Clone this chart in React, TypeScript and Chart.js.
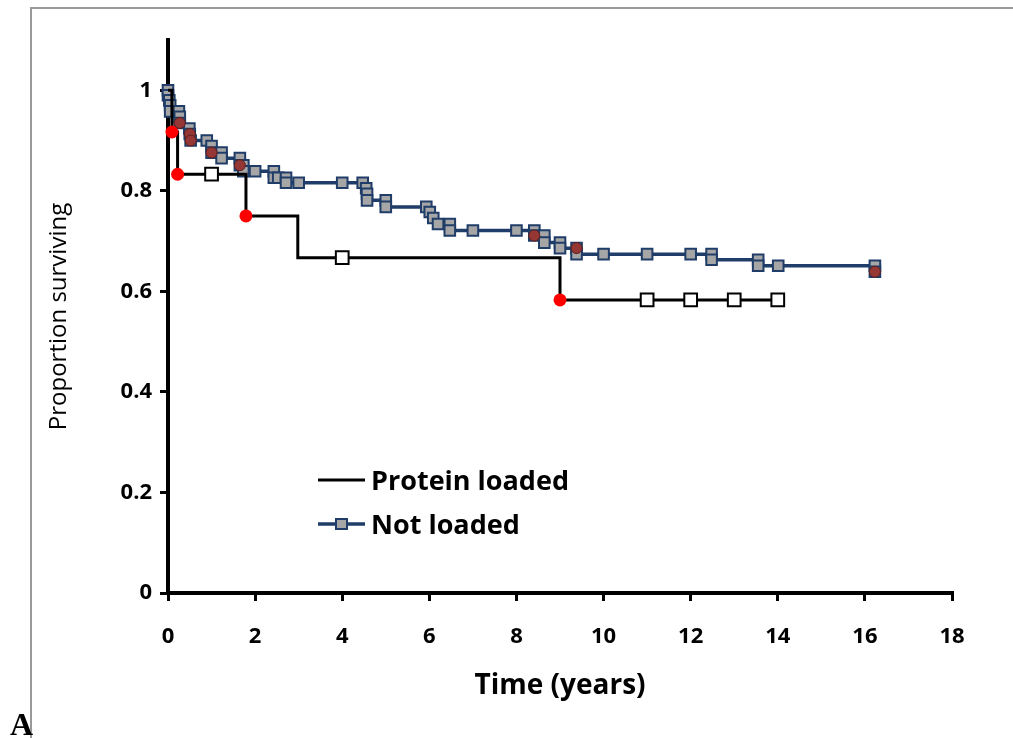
import React, { useEffect, useRef } from 'react';
import { Chart, registerables } from 'chart.js';

Chart.register(...registerables);

// ---------- data ----------
const xTickStep = 2;
const xMin = 0;
const xMax = 18;
const yTickValues = [0, 0.2, 0.4, 0.6, 0.8, 1];
const yMin = 0;
const yMax = 1.1;

const seriesNames = ['Protein loaded', 'Not loaded'];

// Protein loaded (Kaplan-Meier, stepped)
const proteinTimes = [0, 0.09, 0.22, 1.0, 1.79, 2.98, 4.0, 9.0, 11, 12, 13, 14];
const proteinSurv = [1, 0.917, 0.833, 0.833, 0.75, 0.667, 0.667, 0.583, 0.583, 0.583, 0.583, 0.583];
const proteinMark = ['', 'event', 'event', 'censor', 'event', '', 'censor', 'event', 'censor', 'censor', 'censor', 'censor'];

// Not loaded (points as plotted)
const notLoadedTimes = [0, 0.0, 0.03, 0.05, 0.05, 0.25, 0.27, 0.27, 0.49, 0.5, 0.52, 0.89, 1.0, 1.0, 1.23, 1.23, 1.65, 1.65, 1.73, 1.73, 2.0, 2.43, 2.43, 2.53, 2.71, 2.71, 3.0, 4.0, 4.47, 4.55, 4.57, 4.57, 5.0, 5.0, 5.93, 6.01, 6.09, 6.2, 6.47, 6.47, 7.0, 8.0, 8.41, 8.41, 8.64, 8.64, 9.0, 9.0, 9.38, 9.38, 10.0, 11.0, 12.0, 12.48, 12.48, 13.55, 13.55, 14.01, 16.23, 16.23];
const notLoadedSurv = [1.0, 0.99, 0.98, 0.97, 0.958, 0.958, 0.947, 0.935, 0.924, 0.913, 0.9, 0.9, 0.889, 0.876, 0.876, 0.865, 0.865, 0.851, 0.851, 0.839, 0.839, 0.839, 0.826, 0.826, 0.826, 0.816, 0.816, 0.816, 0.816, 0.805, 0.794, 0.781, 0.781, 0.768, 0.768, 0.758, 0.746, 0.734, 0.734, 0.721, 0.721, 0.721, 0.721, 0.711, 0.711, 0.697, 0.697, 0.686, 0.686, 0.674, 0.674, 0.674, 0.674, 0.674, 0.663, 0.663, 0.651, 0.651, 0.651, 0.639];
const notLoadedEventTimes = [0.27, 0.5, 0.52, 1.0, 1.65, 8.41, 9.38, 16.23];
const notLoadedEventSurv = [0.935, 0.913, 0.9, 0.876, 0.851, 0.711, 0.686, 0.639];

// ---------- styles ----------
const NAVY = '#1f3d68';
const GRAY = '#a6a6a6';
const BROWN = '#953735';
const FONT_BOLD = '"Open Sans", "DejaVu Sans", sans-serif';

const legendPlugin = {
  id: 'kmLegend',
  afterDraw(chart: any) {
    const ctx = chart.ctx;
    ctx.save();
    const x0 = 318;
    const x1 = 365;
    const rows = [480, 524];
    ctx.strokeStyle = '#000';
    ctx.lineWidth = 3;
    ctx.beginPath();
    ctx.moveTo(x0, rows[0]);
    ctx.lineTo(x1, rows[0]);
    ctx.stroke();
    ctx.strokeStyle = NAVY;
    ctx.lineWidth = 3.5;
    ctx.beginPath();
    ctx.moveTo(x0, rows[1]);
    ctx.lineTo(x1, rows[1]);
    ctx.stroke();
    ctx.fillStyle = GRAY;
    ctx.lineWidth = 2;
    ctx.beginPath();
    ctx.rect((x0 + x1) / 2 - 5.5, rows[1] - 5, 11, 10);
    ctx.fill();
    ctx.stroke();
    ctx.fillStyle = '#000';
    ctx.font = `bold 27px ${FONT_BOLD}`;
    ctx.textAlign = 'left';
    ctx.textBaseline = 'alphabetic';
    ctx.fillText(seriesNames[0], 371, rows[0] + 10);
    ctx.fillText(seriesNames[1], 371, rows[1] + 10);
    ctx.restore();
  },
};

export default function App() {
  const canvasRef = useRef<HTMLCanvasElement | null>(null);

  useEffect(() => {
    if (!canvasRef.current) return;
    const proteinLine = proteinTimes.map((t, i) => ({ x: t, y: proteinSurv[i] }));
    const proteinEvents = proteinTimes
      .map((t, i) => ({ x: t, y: proteinSurv[i], m: proteinMark[i] }))
      .filter((p) => p.m === 'event')
      .map(({ x, y }) => ({ x, y }));
    const proteinCensor = proteinTimes
      .map((t, i) => ({ x: t, y: proteinSurv[i], m: proteinMark[i] }))
      .filter((p) => p.m === 'censor')
      .map(({ x, y }) => ({ x, y }));
    const notLoadedLine = notLoadedTimes.map((t, i) => ({ x: t, y: notLoadedSurv[i] }));
    const notLoadedEvents = notLoadedEventTimes.map((t, i) => ({ x: t, y: notLoadedEventSurv[i] }));

    const chart = new Chart(canvasRef.current, {
      type: 'scatter',
      data: {
        datasets: [
          {
            label: 'Not loaded events',
            data: notLoadedEvents,
            showLine: false,
            pointStyle: 'circle',
            pointRadius: 5.5,
            backgroundColor: BROWN,
            borderColor: '#5e1d1c',
            borderWidth: 1,
            clip: false,
          },
          {
            label: 'Protein loaded events',
            data: proteinEvents,
            showLine: false,
            pointStyle: 'circle',
            pointRadius: 6.5,
            backgroundColor: '#ff0000',
            borderColor: '#ff0000',
            borderWidth: 0,
            clip: false,
          },
          {
            label: 'Protein loaded censored',
            data: proteinCensor,
            showLine: false,
            pointStyle: 'rect',
            pointRadius: 9,
            backgroundColor: '#ffffff',
            borderColor: '#000000',
            borderWidth: 2,
            clip: false,
          },
          {
            label: seriesNames[0],
            data: proteinLine,
            showLine: true,
            stepped: 'before',
            borderColor: '#000000',
            borderWidth: 3,
            pointRadius: 0,
            fill: false,
            clip: false,
          },
          {
            label: seriesNames[1],
            data: notLoadedLine,
            showLine: true,
            borderColor: NAVY,
            borderWidth: 3.5,
            pointStyle: 'rect',
            pointRadius: 7.5,
            pointBackgroundColor: GRAY,
            pointBorderColor: NAVY,
            pointBorderWidth: 2,
            fill: false,
            clip: false,
          },
        ] as any,
      },
      options: {
        responsive: false,
        animation: false,
        events: [],
        layout: { padding: { left: 0, top: 40, right: 61, bottom: 0 } },
        plugins: {
          legend: { display: false },
          tooltip: { enabled: false },
        },
        scales: {
          x: {
            type: 'linear',
            min: xMin,
            max: xMax,
            afterFit: (scale: any) => {
              scale.height = 145;
            },
            ticks: {
              stepSize: xTickStep,
              color: '#000',
              padding: 23,
              font: { family: FONT_BOLD, size: 22, weight: 'bold' },
            },
            grid: {
              display: true,
              drawOnChartArea: false,
              drawTicks: true,
              tickLength: 8,
              color: '#000',
              lineWidth: 3,
            },
            border: { display: true, color: '#000', width: 4 },
            title: {
              display: true,
              text: 'Time (years)',
              color: '#000',
              font: { family: FONT_BOLD, size: 28, weight: 'bold' },
              padding: { top: 0, bottom: 35 },
            },
          },
          y: {
            type: 'linear',
            min: yMin,
            max: yMax,
            afterFit: (scale: any) => {
              scale.width = 168;
            },
            afterBuildTicks: (scale: any) => {
              scale.ticks = yTickValues.map((v) => ({ value: v }));
            },
            ticks: {
              color: '#000',
              padding: 8,
              font: { family: FONT_BOLD, size: 22, weight: 'bold' },
              callback: (v: any) => String(Math.round(Number(v) * 10) / 10),
            },
            grid: {
              display: true,
              drawOnChartArea: false,
              drawTicks: true,
              tickLength: 8,
              color: '#000',
              lineWidth: 3,
            },
            border: { display: true, color: '#000', width: 4 },
            title: {
              display: true,
              text: 'Proportion surviving',
              color: '#000',
              font: { family: '"Open Sans", sans-serif', size: 24, weight: 'normal' },
              padding: { top: 45, bottom: 0 },
            },
          },
        },
      },
      plugins: [legendPlugin],
    });
    return () => chart.destroy();
  }, []);

  return (
    <div
      style={{
        position: 'fixed',
        left: 0,
        top: 0,
        width: 1013,
        height: 738,
        overflow: 'hidden',
        background: '#fff',
      }}
    >
      <div
        style={{
          position: 'absolute',
          left: 30,
          top: 7,
          width: 1200,
          height: 900,
          borderLeft: '2px solid #999',
          borderTop: '2px solid #999',
        }}
      />
      <canvas
        ref={canvasRef}
        width={1013}
        height={738}
        style={{ position: 'absolute', left: 0, top: 0, display: 'block' }}
      />
      <div
        style={{
          position: 'absolute',
          left: 10,
          top: 708,
          fontFamily: '"Liberation Serif", "Times New Roman", serif',
          fontWeight: 'bold',
          fontSize: 32,
          lineHeight: '32px',
          color: '#000',
        }}
      >
        A
      </div>
    </div>
  );
}
